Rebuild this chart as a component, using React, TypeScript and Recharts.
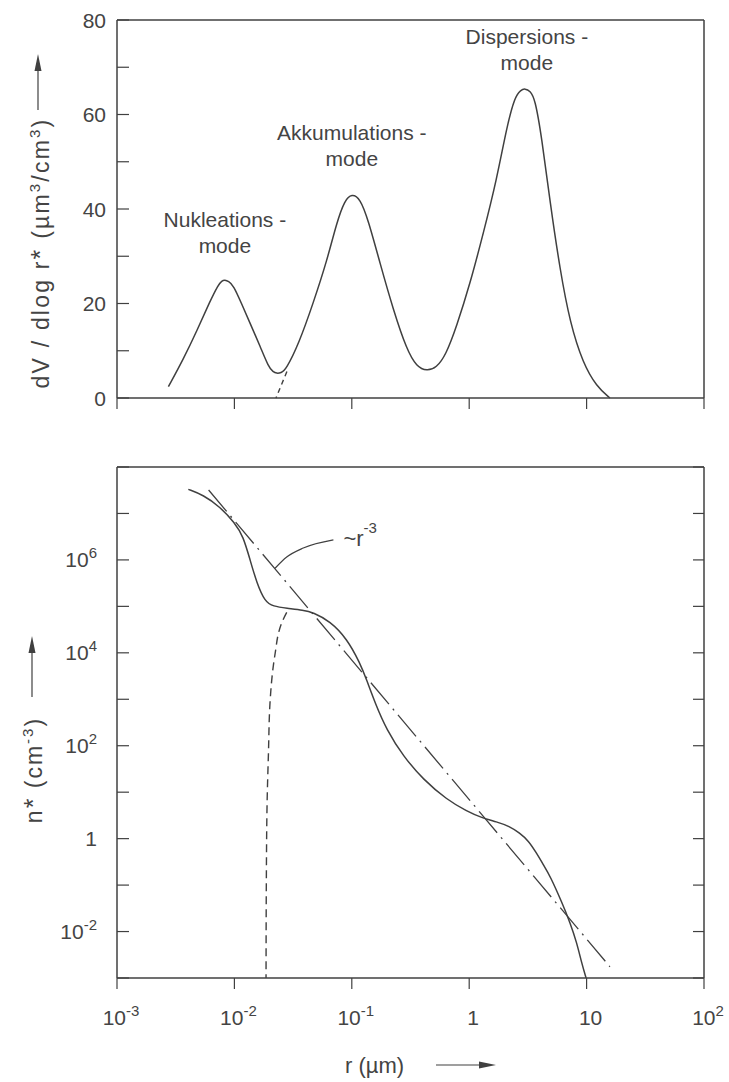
import React from "react";
import { LineChart, Line, XAxis, YAxis, ReferenceDot } from "recharts";

const INK = "#404040";
const TEXT = "#444444";
const FONT = '"Liberation Sans", Arial, Helvetica, sans-serif';

// upper panel: volume distribution dV/dlog r* (µm³/cm³) over radius r (µm)
const volumeR = [
  0.00274, 0.00367, 0.00479, 0.00617, 0.0073, 0.0078, 0.0083, 0.0089, 0.0098, 0.0115, 0.0136,
  0.0166, 0.0195, 0.0214, 0.0229, 0.0249, 0.0275, 0.0355, 0.0468, 0.0617, 0.0741, 0.0871, 0.1,
  0.1175, 0.138, 0.174, 0.226, 0.294, 0.357, 0.437, 0.525, 0.63, 0.78, 1.02, 1.32, 1.71, 2.09,
  2.45, 2.75, 2.99, 3.3, 3.63, 4.14, 4.9, 5.94, 7.24, 9.33, 12.2, 15.8,
];
const volumeV = [
  2.4, 8.2, 14.2, 20.4, 24.0, 24.8, 25.0, 24.7, 23.9, 20.0, 15.8, 10.9, 6.6, 5.5, 5.2, 5.3,
  6.0, 11.6, 20.0, 29.2, 37.0, 41.9, 43.2, 42.3, 37.7, 28.5, 18.6, 10.2, 6.6, 5.7, 6.4, 9.0,
  15.1, 24.3, 34.9, 46.1, 57.4, 63.8, 65.2, 65.5, 65.0, 63.4, 55.3, 41.2, 27.1, 15.8, 7.3, 2.4,
  0,
];
// left flank of the accumulation mode below the nucleation minimum
const volumeTailR = [0.028, 0.0226];
const volumeTailV = [5.6, 0];

// lower panel: number distribution n* (cm⁻³)
const numberR = [
  0.00405, 0.00543, 0.00753, 0.0101, 0.0119, 0.0136, 0.0155, 0.0182, 0.0214, 0.0279, 0.0386,
  0.0468, 0.0652, 0.0912, 0.1175, 0.134, 0.158, 0.198, 0.275, 0.407, 0.645, 0.953, 1.28, 1.71,
  2.2, 2.69, 3.2, 3.72, 4.3, 4.9, 6.17, 7.24, 8.24, 9.08, 9.9,
];
const numberN = [
  3.3e7, 2.5e7, 1.4e7, 6.2e6, 3.2e6, 1.0e6, 3.2e5, 1.26e5, 1.0e5, 9.1e4, 8.3e4, 7.4e4, 4.8e4,
  2.0e4, 6.0e3, 2.6e3, 830, 220, 59, 18.6, 6.9, 3.9, 2.8, 2.3, 1.85, 1.32, 0.9, 0.5, 0.27, 0.155,
  0.042, 0.0155, 0.0058, 0.0021, 0.001,
];
const numberTailR = [0.0279, 0.0251, 0.0237, 0.0224, 0.0214, 0.0201, 0.0195, 0.019, 0.0187, 0.0186];
const numberTailN = [7.4e4, 4.2e4, 2.6e4, 1.1e4, 5.0e3, 830, 69, 6.3, 0.1, 0.001];

// ~ r^-3 power law
const powerR = [0.00603, 15.8];
const powerN = [3.2e7, 1.75e-3];

// leader from the power-law label to its line
const leaderR = [0.0222, 0.0279, 0.0386, 0.0697];
const leaderN = [6.6e5, 1.15e6, 1.8e6, 2.7e6];

const radiusTicks = [0.001, 0.01, 0.1, 1, 10, 100];
const volumeTicks = [0, 10, 20, 30, 40, 50, 60, 70, 80];
const volumeLabels = [0, 20, 40, 60, 80];
const densityTicks = [1e-3, 1e-2, 1e-1, 1, 10, 1e2, 1e3, 1e4, 1e5, 1e6, 1e7, 1e8];
const densityLabels = [1e-2, 1, 1e2, 1e4, 1e6];

const modes = [
  { lines: ["Nukleations -", "mode"], r: 0.0083, v: 36.2 },
  { lines: ["Akkumulations -", "mode"], r: 0.1, v: 54.6 },
  { lines: ["Dispersions -", "mode"], r: 3.1, v: 74.9 },
];

const zip = (xs: number[], ys: number[], key: string) => xs.map((r, i) => ({ r, [key]: ys[i] }));

const volumeData = zip(volumeR, volumeV, "v");
const volumeTail = zip(volumeTailR, volumeTailV, "v");
const numberData = zip(numberR, numberN, "n");
const numberTail = zip(numberTailR, numberTailN, "n");
const powerData = zip(powerR, powerN, "n");
const leaderData = zip(leaderR, leaderN, "n");

const frame = { stroke: INK, strokeWidth: 1.5 };

function PowLabel({ value, ...rest }: any) {
  const e = Math.round(Math.log10(value));
  const base = e === 0 ? "1" : "10";
  const sup = e === 0 || e === 1 ? null : String(e);
  return (
    <text fontFamily={FONT} fontSize={21} fill={TEXT} {...rest}>
      {base}
      {sup && (
        <tspan dy={-9} fontSize={15}>
          {sup}
        </tspan>
      )}
    </text>
  );
}

function VolumeLeftTick({ x, y, payload }: any) {
  const v = payload.value;
  return (
    <g>
      <line x1={x} x2={x + 12} y1={y} y2={y} stroke={INK} strokeWidth={1.2} />
      {volumeLabels.includes(v) && (
        <text x={x - 11} y={y + 7.5} textAnchor="end" fontFamily={FONT} fontSize={21} fill={TEXT}>
          {v}
        </text>
      )}
    </g>
  );
}

function DensityLeftTick({ x, y, payload }: any) {
  const v = payload.value;
  const labelled = densityLabels.some((d) => Math.abs(Math.log10(d) - Math.log10(v)) < 1e-6);
  return (
    <g>
      <line x1={x} x2={x + 12} y1={y} y2={y} stroke={INK} strokeWidth={1.2} />
      {labelled && <PowLabel value={v} x={x - 20} y={y + 7.5} textAnchor="end" />}
    </g>
  );
}

function RightTick({ x, y }: any) {
  return <line x1={x} x2={x - 11} y1={y} y2={y} stroke={INK} strokeWidth={1.2} />;
}

function BottomTick({ x, y }: any) {
  return <line x1={x} x2={x} y1={y} y2={y + 11} stroke={INK} strokeWidth={1.2} />;
}

function BottomLabelTick({ x, y, payload }: any) {
  return (
    <g>
      <line x1={x} x2={x} y1={y} y2={y + 11} stroke={INK} strokeWidth={1.2} />
      <PowLabel value={payload.value} x={x + 4} y={y + 47} textAnchor="middle" />
    </g>
  );
}

function ModeText({ viewBox, lines }: any) {
  const { x, y } = viewBox;
  return (
    <text x={x} y={y} textAnchor="middle" fontFamily={FONT} fontSize={21} fill={TEXT}>
      {lines.map((l: string, i: number) => (
        <tspan key={l} x={x} dy={i === 0 ? 0 : 26}>
          {l}
        </tspan>
      ))}
    </text>
  );
}

function PowerLawText({ viewBox }: any) {
  const { x, y } = viewBox;
  return (
    <text x={x + 10} y={y + 6} fontFamily={FONT} fontSize={22} fill={TEXT}>
      ~r
      <tspan dy={-13} fontSize={15}>
        -3
      </tspan>
    </text>
  );
}

function Titles() {
  return (
    <svg
      width={729}
      height={1082}
      style={{ position: "absolute", left: 0, top: 0, pointerEvents: "none" }}
    >
      <g fontFamily={FONT} fill={TEXT}>
        <text transform="translate(49,253) rotate(-90)" textAnchor="middle" fontSize={23} letterSpacing={2.2}>
          dV / dlog r<tspan fontSize={25}>*</tspan> (µm
          <tspan dy={-9} fontSize={15}>3</tspan>
          <tspan dy={9}>/cm</tspan>
          <tspan dy={-9} fontSize={15}>3</tspan>
          <tspan dy={9}>)</tspan>
        </text>
        <text transform="translate(42,770) rotate(-90)" textAnchor="middle" fontSize={23} letterSpacing={2}>
          n<tspan fontSize={25}>*</tspan> (cm
          <tspan dy={-9} fontSize={15}>-3</tspan>
          <tspan dy={9}>)</tspan>
        </text>
        <text x={345} y={1073} fontSize={22}>
          r (µm)
        </text>
      </g>
      <g stroke={INK} strokeWidth={1.2} fill={INK}>
        <line x1={38} x2={38} y1={110} y2={68} />
        <polygon points="38,54 34.5,71 41.5,71" stroke="none" />
        <line x1={32} x2={32} y1={697} y2={652} />
        <polygon points="32,636 28.5,653 35.5,653" stroke="none" />
        <line x1={436} x2={482} y1={1065} y2={1065} />
        <polygon points="496,1065 479,1061.5 479,1068.5" stroke="none" />
      </g>
    </svg>
  );
}

// axes are 1px thick so that Recharts draws them; margins absorb that pixel
const radiusAxis = {
  type: "number" as const,
  scale: "log" as const,
  domain: [0.001, 100],
  allowDataOverflow: true,
};

export default function App() {
  return (
    <div style={{ position: "absolute", left: 0, top: 0, width: 729, height: 1082, background: "#fff" }}>
      <div style={{ position: "absolute", left: 0, top: 0 }}>
        <LineChart width={729} height={420} margin={{ top: 19, right: 24, bottom: 21, left: 116 }}>
          <XAxis
            {...radiusAxis}
            dataKey="r"
            ticks={radiusTicks}
            interval={0}
            height={1}
            tickSize={0}
            tickMargin={0}
            tickLine={false}
            tick={<BottomTick />}
            axisLine={frame}
          />
          <XAxis
            {...radiusAxis}
            xAxisId="top"
            orientation="top"
            ticks={radiusTicks}
            height={1}
            tick={false}
            tickLine={false}
            axisLine={frame}
          />
          <YAxis
            type="number"
            domain={[0, 80]}
            ticks={volumeTicks}
            interval={0}
            width={1}
            tickSize={0}
            tickMargin={0}
            tickLine={false}
            tick={<VolumeLeftTick />}
            axisLine={frame}
          />
          <YAxis
            yAxisId="right"
            orientation="right"
            type="number"
            domain={[0, 80]}
            ticks={volumeTicks}
            interval={0}
            width={1}
            tickSize={0}
            tickMargin={0}
            tickLine={false}
            tick={<RightTick />}
            axisLine={frame}
          />
          <Line
            data={volumeData}
            dataKey="v"
            type="basis"
            stroke={INK}
            strokeWidth={1.5}
            dot={false}
            isAnimationActive={false}
          />
          <Line
            data={volumeTail}
            dataKey="v"
            type="linear"
            stroke={INK}
            strokeWidth={1.4}
            strokeDasharray="5 4"
            dot={false}
            isAnimationActive={false}
          />
          {modes.map((m) => (
            <ReferenceDot
              key={m.lines[0]}
              x={m.r}
              y={m.v}
              r={0}
              fill="none"
              stroke="none"
              label={<ModeText lines={m.lines} />}
            />
          ))}
        </LineChart>
      </div>
      <div style={{ position: "absolute", left: 0, top: 440 }}>
        <LineChart width={729} height={642} margin={{ top: 26, right: 24, bottom: 103, left: 116 }}>
          <XAxis
            {...radiusAxis}
            dataKey="r"
            ticks={radiusTicks}
            interval={0}
            height={1}
            tickSize={0}
            tickMargin={0}
            tickLine={false}
            tick={<BottomLabelTick />}
            axisLine={frame}
          />
          <XAxis
            {...radiusAxis}
            xAxisId="top"
            orientation="top"
            ticks={radiusTicks}
            height={1}
            tick={false}
            tickLine={false}
            axisLine={frame}
          />
          <YAxis
            type="number"
            scale="log"
            domain={[1e-3, 1e8]}
            allowDataOverflow
            ticks={densityTicks}
            interval={0}
            width={1}
            tickSize={0}
            tickMargin={0}
            tickLine={false}
            tick={<DensityLeftTick />}
            axisLine={frame}
          />
          <YAxis
            yAxisId="right"
            orientation="right"
            type="number"
            scale="log"
            domain={[1e-3, 1e8]}
            allowDataOverflow
            ticks={densityTicks}
            interval={0}
            width={1}
            tickSize={0}
            tickMargin={0}
            tickLine={false}
            tick={<RightTick />}
            axisLine={frame}
          />
          <Line
            data={powerData}
            dataKey="n"
            type="linear"
            stroke={INK}
            strokeWidth={1.3}
            strokeDasharray="28 6 2 6"
            dot={false}
            isAnimationActive={false}
          />
          <Line
            data={numberTail}
            dataKey="n"
            type="monotoneY"
            stroke={INK}
            strokeWidth={1.4}
            strokeDasharray="8 5"
            dot={false}
            isAnimationActive={false}
          />
          <Line
            data={leaderData}
            dataKey="n"
            type="monotone"
            stroke={INK}
            strokeWidth={1.2}
            dot={false}
            isAnimationActive={false}
          />
          <Line
            data={numberData}
            dataKey="n"
            type="basis"
            stroke={INK}
            strokeWidth={1.5}
            dot={false}
            isAnimationActive={false}
          />
          <ReferenceDot
            x={leaderR[leaderR.length - 1]}
            y={leaderN[leaderN.length - 1]}
            r={0}
            fill="none"
            stroke="none"
            label={<PowerLawText />}
          />
        </LineChart>
      </div>
      <Titles />
    </div>
  );
}
